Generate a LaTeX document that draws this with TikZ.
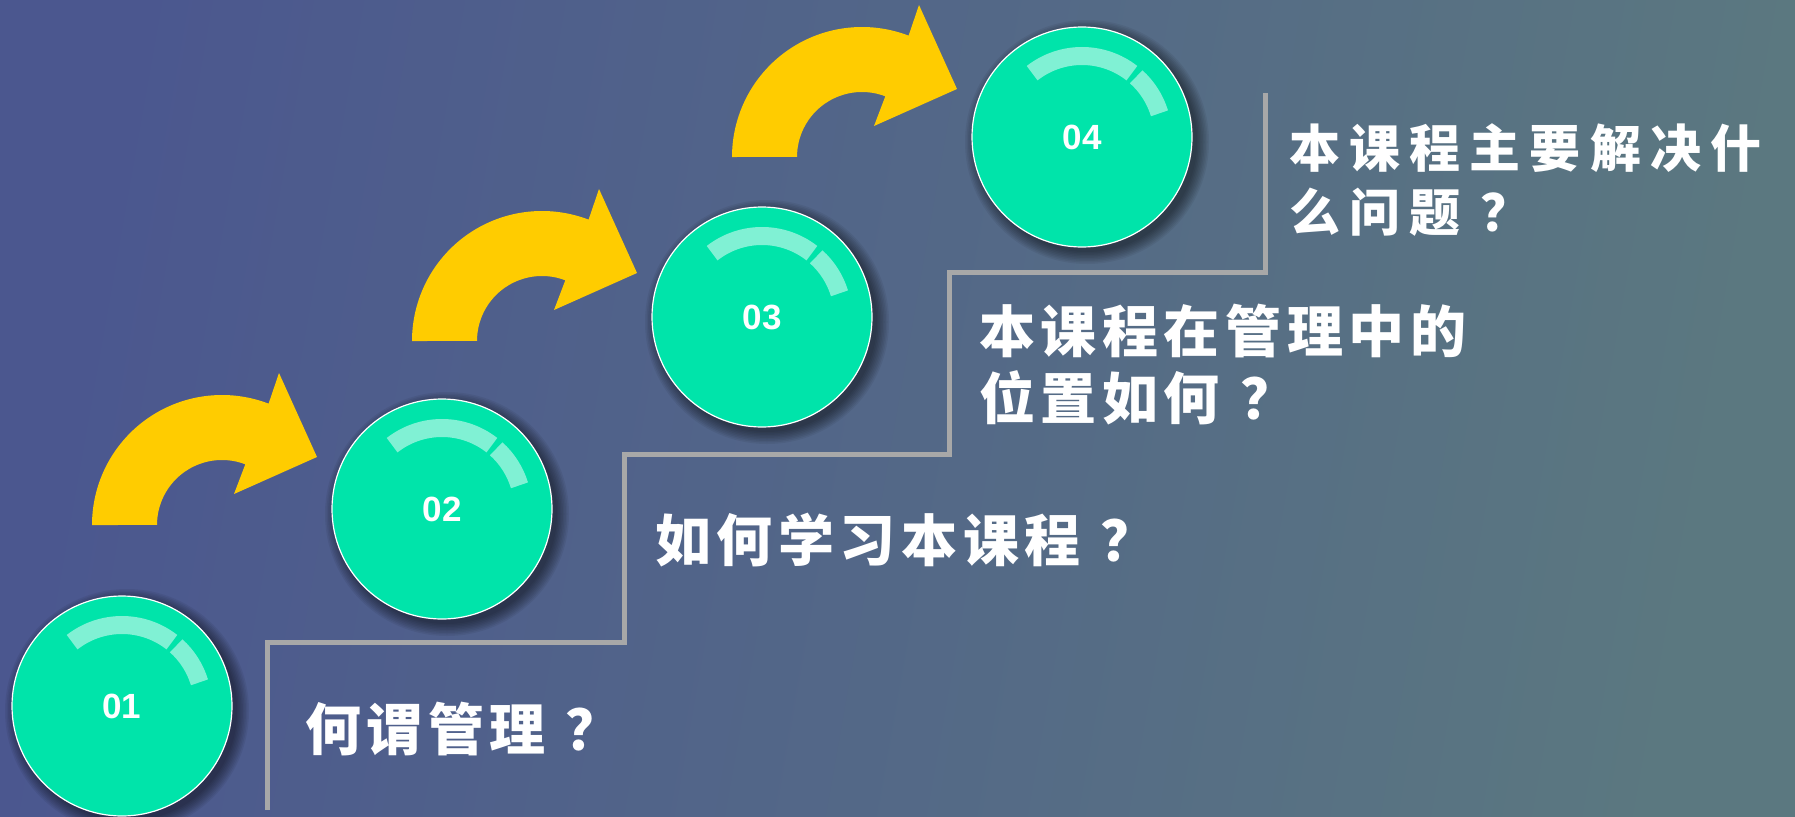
\documentclass[tikz,border=0pt]{standalone}
\usepackage{fontspec}
\newfontfamily\cjk{Noto Sans CJK SC}[LetterSpace=10]
\newfontfamily\cjkw{Noto Sans CJK SC}[LetterSpace=18]
\newfontfamily\digitfont{Liberation Sans}
\usetikzlibrary{calc}
\definecolor{bgL}{RGB}{75,87,143}
\definecolor{bgR}{RGB}{91,120,128}
\definecolor{ballgreen}{RGB}{0,228,170}
\definecolor{arrowyellow}{RGB}{255,204,0}
\definecolor{stepgray}{RGB}{168,168,168}
\newcommand{\qgap}{\hspace{20pt}}
\tikzset{
  ball/.style={circle, minimum size=220pt, inner sep=0pt, fill=ballgreen, draw=white, line width=1.2pt,
    text=white, font=\digitfont\bfseries\fontsize{35}{38}\selectfont},
  hl/.style={draw=white, draw opacity=0.5, line width=18pt},
  stepline/.style={draw=stepgray, line width=5pt},
  bigtext/.style={text=white, inner sep=0pt, anchor=west, align=left,
    font=\fontsize{56}{67}\cjk\bfseries},
  smalltext/.style={text=white, inner sep=0pt, anchor=west, align=left,
    font=\fontsize{51}{64}\cjkw\bfseries},
  curvearrow/.style={fill=arrowyellow}
}
\begin{document}
\begin{tikzpicture}[x=1pt,y=1pt]
\useasboundingbox (0,0) rectangle (1795,-816);
\shade[left color=bgL, right color=bgR, shading angle=80] (0,0) rectangle (1795,-816);

% step line
\draw[stepline] (267,-810) |- (624,-642) |- (949,-454) |- (1265,-272) -- (1265,-93);

% curved arrows
\foreach \bx/\by in {92/-525, 412/-341, 732/-157}{
  \fill[curvearrow, shift={(\bx,\by)}] (0,0) arc[start angle=180, end angle=69, radius=130]
    -- (187,152) -- (225,68) -- (142,31) -- (153.3,60.7)
    arc[start angle=69, end angle=180, radius=65] -- cycle;
}

% ball positions and shadows
\coordinate (p1) at (122,-706);
\coordinate (p2) at (442,-509);
\coordinate (p3) at (762,-317);
\coordinate (p4) at (1082,-137);
\foreach \p in {p1,p2,p3,p4}{
  \foreach \r in {110,111.5,...,123}{
    \fill[black, opacity=0.06] ($(\p)+(5,-5)$) circle[radius=\r];
  }
}

\node[ball] (c1) at (p1) {01};
\node[ball] (c2) at (p2) {02};
\node[ball] (c3) at (p3) {03};
\node[ball] (c4) at (p4) {04};

\foreach \c in {c1,c2,c3,c4}{
  \draw[hl] ($(\c.center)+(128:81)$) arc[start angle=128, end angle=52, radius=81];
  \draw[hl] ($(\c.center)+(48:81)$) arc[start angle=48, end angle=17, radius=81];
}

% texts
\node[bigtext] (t1) at (305,-729) {何谓管理\qgap？};
\node[bigtext] (t2) at (655,-540) {如何学习本课程\qgap？};
\node[bigtext] (t3) at (979,-364.5) {本课程在管理中的\\位置如何\qgap？};
\node[smalltext] (t4) at (1289,-180) {本课程主要解决什\\么问题\qgap？};
\end{tikzpicture}
\end{document}
